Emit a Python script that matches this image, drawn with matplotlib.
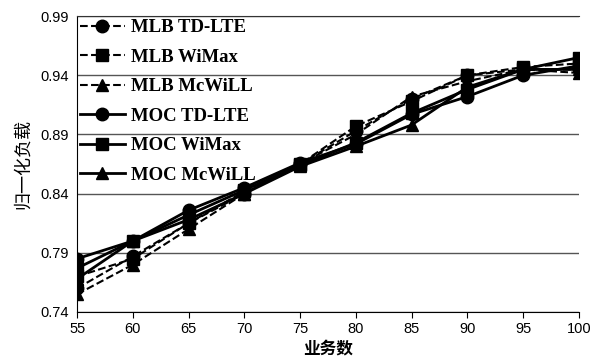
import matplotlib
matplotlib.use('Agg')
import matplotlib.pyplot as plt

x = [55, 60, 65, 70, 75, 80, 85, 90, 95, 100]

mlb_td = [0.760, 0.787, 0.815, 0.840, 0.865, 0.893, 0.920, 0.940, 0.945, 0.945]
mlb_wimax = [0.770, 0.785, 0.815, 0.842, 0.865, 0.897, 0.918, 0.940, 0.947, 0.950]
mlb_mcwill = [0.755, 0.780, 0.810, 0.840, 0.865, 0.890, 0.922, 0.935, 0.945, 0.942]
moc_td = [0.785, 0.800, 0.826, 0.845, 0.866, 0.882, 0.907, 0.922, 0.940, 0.948]
moc_wimax = [0.777, 0.800, 0.822, 0.843, 0.864, 0.883, 0.908, 0.928, 0.945, 0.955]
moc_mcwill = [0.768, 0.800, 0.818, 0.840, 0.863, 0.880, 0.898, 0.930, 0.945, 0.945]

yticks = [0.74, 0.79, 0.84, 0.89, 0.94, 0.99]

series = [
    ('MLB TD-LTE', mlb_td, '--', 'o'),
    ('MLB WiMax', mlb_wimax, '--', 's'),
    ('MLB McWiLL', mlb_mcwill, '--', '^'),
    ('MOC TD-LTE', moc_td, '-', 'o'),
    ('MOC WiMax', moc_wimax, '-', 's'),
    ('MOC McWiLL', moc_mcwill, '-', '^'),
]

fig = plt.figure(figsize=(5.93, 3.59), dpi=100)
ax = fig.add_axes([0.130, 0.131, 0.846, 0.824])

for name, vals, ls, mk in series:
    lw = 1.5 if ls == '--' else 2.0
    ax.plot(x, vals, linestyle=ls, marker=mk, color='black', lw=lw,
            markersize=9, label=name)

ax.set_xlim(55, 100)
ax.set_ylim(0.74, 0.99)
ax.set_xticks(x)
ax.set_yticks(yticks)
ax.set_yticklabels(['%.2f' % v for v in yticks])
for lbl in ax.get_xticklabels() + ax.get_yticklabels():
    lbl.set_family('Liberation Sans')
    lbl.set_fontsize(10.5)
ax.yaxis.grid(True, color='#555555', lw=1)
ax.set_axisbelow(True)
ax.spines['right'].set_visible(False)
ax.spines['top'].set_color('#333333')
ax.tick_params(axis='y', length=0, pad=6)
ax.tick_params(axis='x', direction='out', length=4)

ax.set_xlabel('业务数', family=['Noto Sans CJK SC'], fontsize=12, fontweight='bold', labelpad=2)
ax.set_ylabel('归一化负载', family=['Noto Sans CJK SC'], fontsize=13, labelpad=6)

leg = ax.legend(loc='upper left', frameon=False, handlelength=2.4,
                prop={'family': 'Liberation Serif', 'weight': 'bold', 'size': 13.5},
                labelspacing=0.66, borderaxespad=0.05, handletextpad=0.3,
                borderpad=0.1)

fig.savefig('out.png', dpi=100)
